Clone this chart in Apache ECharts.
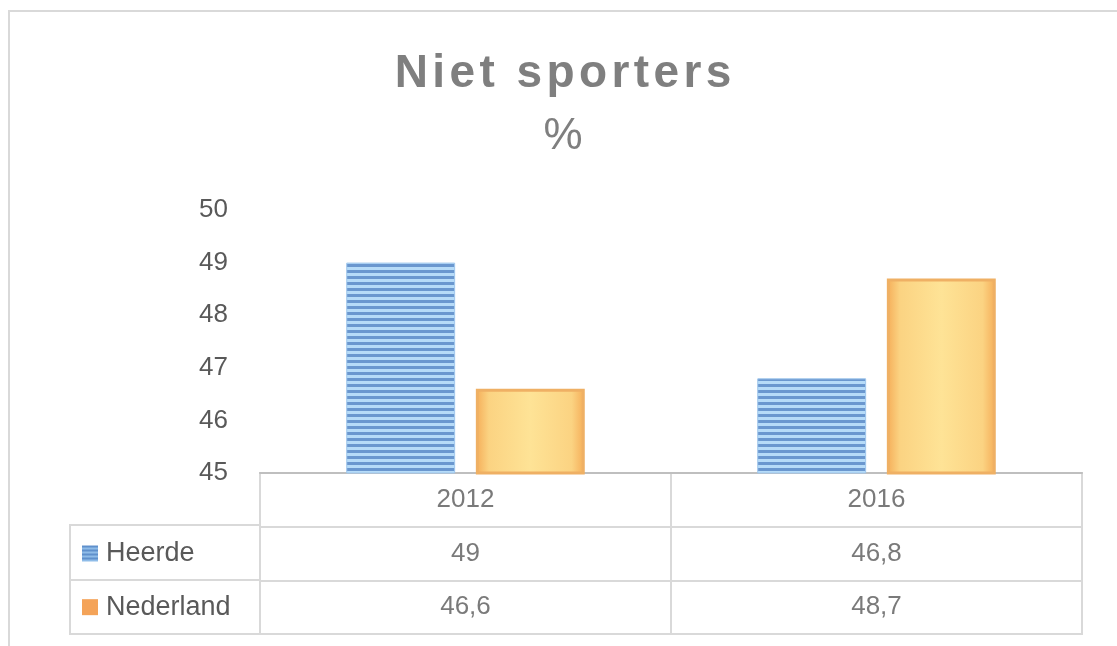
<!DOCTYPE html>
<html>
<head>
<meta charset="utf-8">
<script src="https://cdn.jsdelivr.net/npm/echarts@6/dist/echarts.min.js"></script>
<style>
	html, body { margin: 0; padding: 0; background: #fff; }
	#main { width: 1117px; height: 646px; }
</style>
</head>
<body>
<div id="main"></div>
<script>
var titleText = 'Niet sporters';
var unitText = '%';
var years = ['2012', '2016'];
var seriesNames = ['Heerde', 'Nederland'];
var heerde = [49, 46.8];
var nederland = [46.6, 48.7];
var yTicks = [45, 46, 47, 48, 49, 50];

// striped fill like the excel bar
function stripes(w, h, dark, light, band) {
	var c = document.createElement('canvas');
	c.width = w;
	c.height = h;
	var ctx = c.getContext('2d');
	ctx.fillStyle = light;
	ctx.fillRect(0, 0, w, h);
	ctx.fillStyle = dark;
	for (var y = 0; y < h; y += band * 2) {
		ctx.fillRect(0, y, w, band);
	}
	return c;
}

var barPattern = stripes(6, 6, '#6a97cf', '#b6dbf8', 3);
var iconPattern = stripes(16, 16, '#5f90cc', '#8fbce8', 2);

function fmt(v) {
	return String(v).replace('.', ',');
}

// spaced out title, one rich token per letter
function spaced(s) {
	var out = '';
	for (var i = 0; i < s.length; i++) {
		out += '{s|' + s.charAt(i) + '}';
	}
	return out;
}

var labelFont = 'Liberation Sans, Arial, sans-serif';
var textColor = '#595959';
var lineColor = '#d9d9d9';

var myChart = echarts.init(document.getElementById('main'));

// table cells: header row + one row per series
var cells = [];
for (var i = 0; i < years.length; i++) {
	cells.push({ value: [i, 0], text: years[i] });
	cells.push({ value: [i, 1], text: fmt(heerde[i]) });
	cells.push({ value: [i, 2], text: fmt(nederland[i]) });
}

var option = {
	animation: false,
	title: [{
		text: spaced(titleText),
		left: 558,
		top: 46,
		textAlign: 'center',
		textStyle: {
			rich: {
				s: {
					color: '#7f7f7f',
					fontSize: 46,
					fontWeight: 'bold',
					fontFamily: labelFont,
					padding: [0, 2.2, 0, 2.2]
				}
			}
		}
	}, {
		text: unitText,
		left: 558,
		top: 110,
		textAlign: 'center',
		textStyle: {
			color: '#7f7f7f',
			fontSize: 44,
			fontWeight: 'normal',
			fontFamily: labelFont
		}
	}],
	grid: [{
		left: 260,
		right: 35,
		top: 210,
		height: 263
	}, {
		left: 260,
		right: 35,
		top: 473,
		height: 161,
		show: true,
		borderColor: lineColor,
		borderWidth: 2
	}],
	xAxis: [{
		type: 'category',
		gridIndex: 0,
		data: years,
		axisLine: { show: true, lineStyle: { color: '#bfbfbf', width: 2 } },
		axisTick: { show: false },
		axisLabel: { show: false }
	}, {
		type: 'category',
		gridIndex: 1,
		data: years,
		axisLine: { show: false },
		axisTick: { show: false },
		axisLabel: { show: false },
		splitLine: { show: true, lineStyle: { color: lineColor, width: 2 } }
	}],
	yAxis: [{
		type: 'value',
		gridIndex: 0,
		min: 45,
		max: 50,
		interval: 1,
		axisLine: { show: false },
		axisTick: { show: false },
		splitLine: { show: false },
		axisLabel: {
			margin: 32,
			color: textColor,
			fontSize: 26,
			fontFamily: labelFont,
			formatter: function(v) {
				return yTicks.indexOf(v) >= 0 ? String(v) : '';
			}
		}
	}, {
		type: 'category',
		gridIndex: 1,
		inverse: true,
		data: [''].concat(seriesNames),
		axisLine: { show: false },
		axisTick: { show: false },
		splitLine: { show: true, lineStyle: { color: lineColor, width: 2 } },
		axisLabel: {
			margin: 178,
			align: 'left',
			formatter: function(v, idx) {
				if (idx == 0) return '';
				return '{i' + idx + '|}{t|' + v + '}';
			},
			rich: {
				i1: { width: 16, height: 16, backgroundColor: { image: iconPattern } },
				i2: { width: 16, height: 16, backgroundColor: '#f4a358' },
				t: {
					color: textColor,
					fontSize: 27,
					fontFamily: labelFont,
					padding: [0, 0, 0, 8]
				}
			}
		}
	}],
	series: [{
		name: seriesNames[0],
		type: 'bar',
		xAxisIndex: 0,
		yAxisIndex: 0,
		barWidth: '26.5%',
		barGap: '19%',
		silent: true,
		itemStyle: {
			color: { image: barPattern, repeat: 'repeat' },
			borderColor: '#9fc6ec',
			borderWidth: 1
		},
		data: heerde
	}, {
		name: seriesNames[1],
		type: 'bar',
		xAxisIndex: 0,
		yAxisIndex: 0,
		barWidth: '26.5%',
		barGap: '19%',
		silent: true,
		itemStyle: {
			color: {
				type: 'linear',
				x: 0, y: 0, x2: 1, y2: 0,
				colorStops: [
					{ offset: 0, color: '#f5ad58' },
					{ offset: 0.12, color: '#fbd382' },
					{ offset: 0.5, color: '#fee396' },
					{ offset: 0.88, color: '#fbd382' },
					{ offset: 1, color: '#f5ad58' }
				]
			},
			borderColor: '#efb064',
			borderWidth: 3
		},
		data: nederland
	}, {
		name: 'tabel',
		type: 'scatter',
		xAxisIndex: 1,
		yAxisIndex: 1,
		symbolSize: 1,
		silent: true,
		itemStyle: { color: 'rgba(0,0,0,0)' },
		label: {
			show: true,
			position: 'inside',
			color: textColor,
			fontSize: 26,
			fontFamily: labelFont,
			formatter: function(p) {
				return p.data.text;
			}
		},
		data: cells
	}],
	graphic: [{
		type: 'rect',
		shape: { x: 9, y: 11, width: 1300, height: 800 },
		style: { fill: 'none', stroke: lineColor, lineWidth: 2 },
		silent: true
	}, {
		type: 'polyline',
		shape: { points: [[260, 525], [70, 525], [70, 634], [260, 634]] },
		style: { fill: 'none', stroke: lineColor, lineWidth: 2 },
		silent: true
	}, {
		type: 'line',
		shape: { x1: 70, y1: 580, x2: 260, y2: 580 },
		style: { stroke: lineColor, lineWidth: 2 },
		silent: true
	}]
};

myChart.setOption(option);
</script>
</body>
</html>
